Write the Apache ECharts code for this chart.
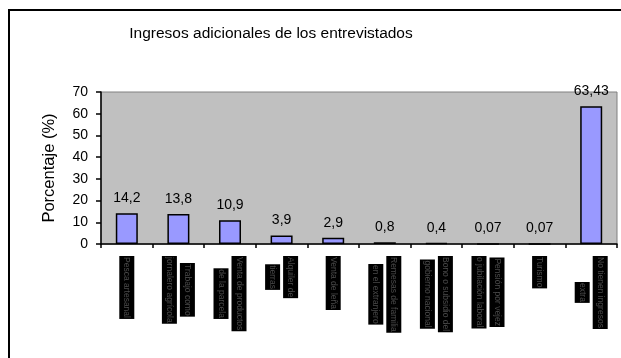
<!DOCTYPE html>
<html>
<head>
<meta charset="utf-8">
<script src="https://cdn.jsdelivr.net/npm/echarts@6/dist/echarts.min.js"></script>
<style>
  html, body { margin: 0; padding: 0; background: #fff; }
  #chart { width: 621px; height: 358px; }
</style>
</head>
<body>
<div id="chart"></div>
<script>
// Fuentes de ingreso adicional (cada etiqueta puede tener dos líneas)
const categorias = [
  'Pesca artesanal',
  'Trabajo como\njornalero agrícola',
  'Venta de productos\nde la parcela',
  'Alquiler de\ntierras',
  'Venta de leña',
  'Remesas de familia\nen el extranjero',
  'Bono o subsidio del\ngobierno nacional',
  'Pensión por vejez\no jubilación laboral',
  'Turismo',
  'No tienen ingresos\nextra'
];
// Porcentaje de entrevistados
const porcentajes = [14.2, 13.8, 10.9, 3.9, 2.9, 0.8, 0.4, 0.07, 0.07, 63.43];
// Etiquetas de valor con coma decimal
const etiquetasValor = ['14,2', '13,8', '10,9', '3,9', '2,9', '0,8', '0,4', '0,07', '0,07', '63,43'];
const marcasY = [0, 10, 20, 30, 40, 50, 60, 70];

const fuente = '"Liberation Sans", Arial, sans-serif';
const chart = echarts.init(document.getElementById('chart'), null, { renderer: 'canvas' });

chart.setOption({
  animation: false,
  backgroundColor: '#fff',
  title: {
    text: 'Ingresos adicionales de los entrevistados',
    left: 266,
    top: 21,
    textAlign: 'center',
    textStyle: { fontFamily: fuente, fontSize: 15.5, fontWeight: 'normal', color: '#000' }
  },
  graphic: [{
    type: 'rect',
    shape: { x: 9, y: 10, width: 700, height: 400 },
    style: { fill: 'none', stroke: '#000', lineWidth: 2 },
    silent: true
  }],
  grid: {
    left: 101, right: 4, top: 92, bottom: 114,
    show: true, backgroundColor: '#C0C0C0', borderColor: '#808080', borderWidth: 1
  },
  xAxis: {
    type: 'category',
    data: categorias,
    axisLine: { lineStyle: { color: '#000', width: 1.5 } },
    axisTick: { show: true, length: 4, lineStyle: { color: '#000', width: 1.5 } },
    axisLabel: {
      interval: 0,
      rotate: -90,
      margin: 12,
      formatter: function (v) {
        return v.split('\n').map(function (l) { return '{t|' + l + '}'; }).join('\n');
      },
      rich: {
        t: {
          fontFamily: fuente,
          fontSize: 8.5,
          color: '#4a4a4a',
          backgroundColor: '#000',
          align: 'center',
          lineHeight: 18,
          padding: [3, 1]
        }
      }
    }
  },
  yAxis: {
    type: 'value',
    min: 0, max: 70, interval: 10,
    name: 'Porcentaje (%)',
    nameLocation: 'middle',
    nameGap: 43,
    nameRotate: 90,
    nameTextStyle: { fontFamily: fuente, fontSize: 16.5, color: '#000' },
    axisLine: { show: true, lineStyle: { color: '#000', width: 1.5 } },
    axisTick: { show: true, length: 5, lineStyle: { color: '#000', width: 1.5 } },
    splitLine: { show: false },
    axisLabel: {
      margin: 13,
      fontFamily: fuente, fontSize: 14, color: '#000',
      formatter: function (v) { return marcasY.indexOf(v) >= 0 ? String(v) : ''; }
    }
  },
  series: [{
    type: 'bar',
    data: porcentajes,
    barWidth: 22,
    itemStyle: { color: '#9999FF', borderColor: '#000', borderWidth: 1.5 },
    label: {
      show: true,
      position: 'top',
      distance: 8,
      fontFamily: fuente, fontSize: 14, color: '#000',
      formatter: function (p) { return etiquetasValor[p.dataIndex]; }
    }
  }]
});
</script>
</body>
</html>
